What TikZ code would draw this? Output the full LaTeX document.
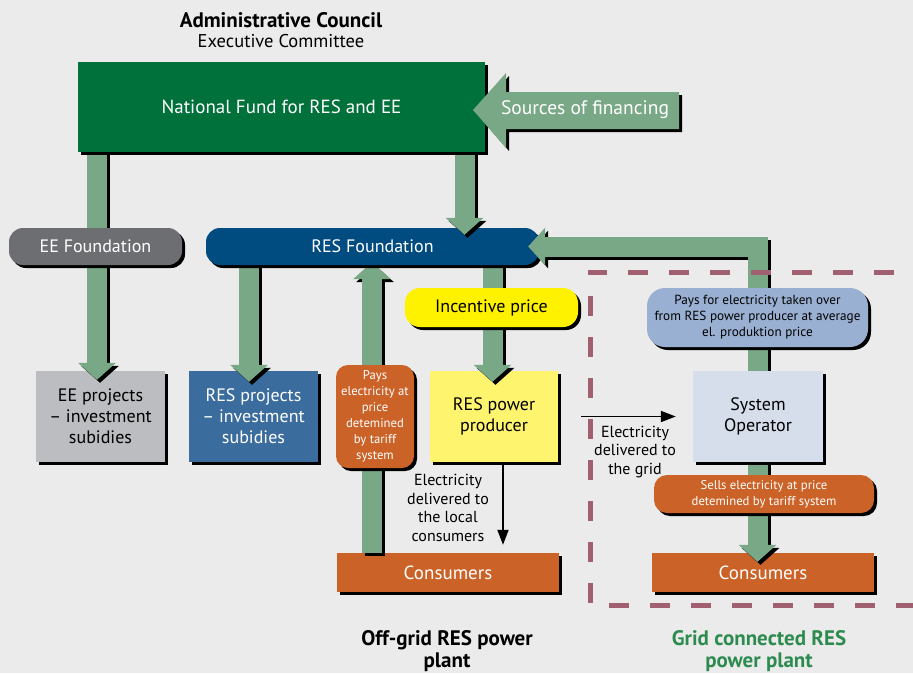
\documentclass[tikz,border=0pt]{standalone}
\usepackage{fontspec}
\setmainfont{PT Sans}
\usetikzlibrary{arrows.meta,shadows,calc}
\definecolor{bgc}{HTML}{EBEBEB}
\definecolor{fundg}{HTML}{00713A}
\definecolor{garr}{HTML}{79A886}
\definecolor{eefound}{HTML}{6D6E71}
\definecolor{resfound}{HTML}{004B80}
\definecolor{eeproj}{HTML}{BCBDC0}
\definecolor{resproj}{HTML}{3B6C9E}
\definecolor{orng}{HTML}{CB6228}
\definecolor{incy}{HTML}{FFF200}
\definecolor{prody}{HTML}{FFF46E}
\definecolor{sysop}{HTML}{D6DEEB}
\definecolor{paysb}{HTML}{9AB0D2}
\definecolor{dashc}{HTML}{A0606F}
\definecolor{greenlab}{HTML}{2E8B50}
\newcommand\bigarrow[2][]{%
  \draw[bigarr,#1,draw=black,transform canvas={xshift=3pt,yshift=-3pt}] #2;
  \draw[bigarr,#1] #2;}
\begin{document}
\begin{tikzpicture}[x=1pt,y=-1pt,
  shad/.style={drop shadow={shadow xshift=3pt,shadow yshift=-3pt,fill=black,opacity=1}},
  boxn/.style={shad,align=center,inner sep=0pt,font=\fontsize{18}{21}\selectfont},
  smalltxt/.style={font=\fontsize{12.7}{16}\selectfont},
  bigarr/.style={draw=garr,line width=20pt,line join=miter,-{Triangle[width=37pt,length=17pt]}},
  thinarr/.style={draw=black,line width=1.8pt,-{Triangle[width=11pt,length=15pt]}},
  lbl/.style={align=center,font=\fontsize{16}{18.5}\selectfont,inner sep=0pt}]
\useasboundingbox (0,0) rectangle (913,673);
\fill[bgc] (0,0) rectangle (913,673);

% lower boxes
\node[boxn,fill=eeproj,minimum width=129pt,minimum height=91pt] (eeP) at (100.5,416.5) {EE projects\\– investment\\subidies};
\node[boxn,fill=resproj,text=white,minimum width=129pt,minimum height=91pt] (resP) at (253.5,416.5) {RES projects\\– investment\\subidies};
\node[boxn,fill=prody,minimum width=128pt,minimum height=91pt] (prod) at (494,416.5) {RES power\\producer};
\node[boxn,fill=orng,text=white,minimum width=222pt,minimum height=39pt,font=\fontsize{19}{22}\selectfont] (consL) at (448,572.5) {Consumers};
\node[boxn,fill=orng,text=white,minimum width=222pt,minimum height=39pt,font=\fontsize{19}{22}\selectfont] (consR) at (763,572.5) {Consumers};

% positions of fund and RES foundation for references
\path (281.5,107) node[minimum width=407pt,minimum height=90pt,inner sep=0pt] (fund) {};
\path (372.5,246.5) node[minimum width=333pt,minimum height=37pt,inner sep=0pt] (resFpos) {};

% arrows below foundations
\bigarrow{([xshift=-184.5pt]fund.south) -- ([xshift=-3.5pt,yshift=-9pt]eeP.north)}
\bigarrow{([xshift=-123.5pt]resFpos.south) -- ([xshift=-4.5pt,yshift=-11pt]resP.north)}
\bigarrow{([xshift=120pt]resFpos.south) -- ([xshift=-1.5pt,yshift=-11pt]prod.north)}
\bigarrow{([xshift=-76pt]consL.north) -- ([xshift=-0.5pt,yshift=3pt]resFpos.south)}

% foundations
\node[boxn,fill=resfound,text=white,rounded corners=14pt,minimum width=333pt,minimum height=37pt] (resF) at (372.5,246.5) {RES Foundation};
\node[boxn,fill=eefound,text=white,rounded corners=14pt,minimum width=173pt,minimum height=37pt] (eeF) at (95.5,246.5) {EE Foundation};

% arrows on top of foundations
\bigarrow{([xshift=183pt]fund.south) -- ([xshift=92pt,yshift=-7pt]resF.north)}
\coordinate (corner) at (757.5,246.5);
\bigarrow[{Triangle[width=37pt,length=17pt]}-{Triangle[width=37pt,length=17pt]}]{([xshift=-11pt]resF.east) -- (corner) -- ([xshift=-5.5pt,yshift=-9pt]consR.north)}

% fund box
\node[boxn,fill=fundg,text=white,minimum width=407pt,minimum height=90pt,font=\fontsize{19}{22}\selectfont] (fundbox) at (281.5,107) {National Fund for RES and EE};

% sources of financing arrow
\fill[black,transform canvas={xshift=3pt,yshift=-3pt}] (473,110) -- (506,73) -- (506,92) -- (679,92) -- (679,129) -- (506,129) -- (506,148) -- cycle;
\fill[garr] (473,110) -- (506,73) -- (506,92) -- (679,92) -- (679,129) -- (506,129) -- (506,148) -- cycle;
\node[text=white,font=\fontsize{19.5}{22}\selectfont,inner sep=0pt] (src) at (585,110) {Sources of financing};

% upper small boxes
\node[boxn,fill=incy,rounded corners=15pt,minimum width=173pt,minimum height=39pt] (inc) at (491.5,307.5) {Incentive price};
\node[boxn,smalltxt,fill=orng,text=white,rounded corners=12pt,minimum width=78pt,minimum height=103pt] (paysL) at (375,416.5) {Pays\\electricity at\\price\\detemined\\by tariff\\system};
\node[boxn,smalltxt,font=\fontsize{13.2}{16}\selectfont,fill=paysb,rounded corners=18pt,minimum width=221pt,minimum height=59pt] (paysR) at (757.5,317.5) {Pays for electricity taken over\\from RES power producer at average\\el. produktion price};
\node[boxn,fill=sysop,minimum width=130pt,minimum height=91pt] (so) at (758,416.5) {System\\Operator};
\node[boxn,smalltxt,fill=orng,text=white,rounded corners=13pt,minimum width=220pt,minimum height=38pt] (sells) at (764,494) {Sells electricity at price\\detemined by tariff system};

% thin arrows and labels
\draw[thinarr] ([xshift=9pt]prod.south) -- ([xshift=55pt,yshift=8pt]consL.north);
\node[lbl] (locl) at (448,508) {Electricity\\delivered to\\the local\\consumers};
\draw[thinarr] ([xshift=23pt]prod.east) -- ([xshift=-17pt]so.west);
\node[lbl] (gridl) at (635,452) {Electricity\\delivered to\\the grid};

% dashed region
\draw[dashc,line width=5pt,dash pattern=on 20pt off 21pt,dash phase=10pt] (925,272) -- (590,272) -- (590,605) -- (925,605);

% titles
\node[font=\fontsize{21}{24}\selectfont\bfseries,inner sep=0pt] (adm) at (281,20) {Administrative Council};
\node[font=\fontsize{18.5}{21}\selectfont,inner sep=0pt] (exe) at (281,41) {Executive Committee};
\node[align=center,font=\fontsize{21}{22}\selectfont\bfseries,inner sep=0pt] (offg) at (447,651) {Off-grid RES power\\plant};
\node[align=center,text=greenlab,font=\fontsize{21}{22}\selectfont\bfseries,inner sep=0pt] (gridc) at (759,651) {Grid connected RES\\power plant};
\end{tikzpicture}
\end{document}
